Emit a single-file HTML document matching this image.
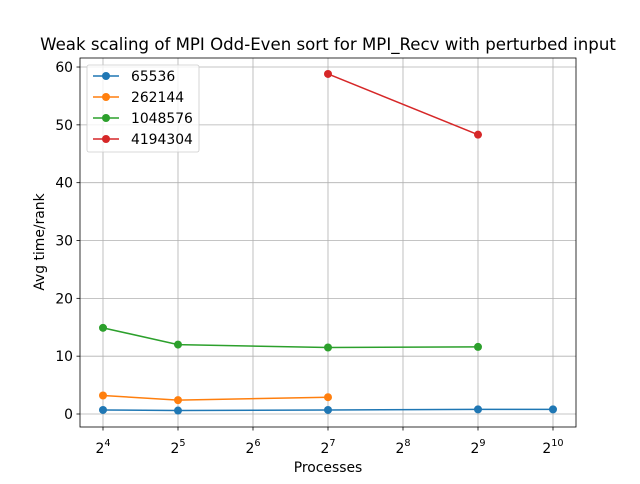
<!DOCTYPE html>
<html><head><meta charset="utf-8"><style>
body{margin:0;background:#fff;font-family:"DejaVu Sans","Liberation Sans",sans-serif}
svg text{font-family:"DejaVu Sans","Liberation Sans",sans-serif}
</style></head><body>
<svg id="c" width="640" height="480" viewBox="0 0 640 480">
<rect width="640" height="480" fill="#fff"/>
<g id="grid"></g>
<g id="lines"></g>
<rect x="80" y="58" width="496" height="369" fill="none" stroke="#000" stroke-width="0.8"/>
<g id="ticks"></g>
<text x="328" y="50" text-anchor="middle" font-size="16.6">Weak scaling of MPI Odd-Even sort for MPI_Recv with perturbed input</text>
<text x="328" y="472" text-anchor="middle" font-size="13.9">Processes</text>
<text x="44" y="242" text-anchor="middle" font-size="13.9" transform="rotate(-90 44 242)">Avg time/rank</text>
<g id="legend"></g>
</svg>
<script>
const exps=[4,5,6,7,8,9,10];
const yTicks=[0,10,20,30,40,50,60];
const seriesNames=["65536","262144","1048576","4194304"];
const colors=["#1f77b4","#ff7f0e","#2ca02c","#d62728"];
const xs0=[4,5,7,9,10], ys0=[0.7,0.6,0.7,0.8,0.8];
const xs1=[4,5,7], ys1=[3.2,2.4,2.9];
const xs2=[4,5,7,9], ys2=[14.9,12.0,11.5,11.6];
const xs3=[7,9], ys3=[58.8,48.3];
const X=e=>103+(e-4)*75;
const Y=v=>414-v*5.783;
const NS="http://www.w3.org/2000/svg";
function mk(t,a,p){const e=document.createElementNS(NS,t);for(const k in a)e.setAttribute(k,a[k]);p.appendChild(e);return e;}
const g=document.getElementById('grid'),tk=document.getElementById('ticks');
exps.forEach(e=>{
 const l=mk('line',{x1:X(e),x2:X(e),y1:58,y2:427,stroke:'#b0b0b0','stroke-width':0.8},g);
 
 
 mk('line',{x1:X(e),x2:X(e),y1:427,y2:430.5,stroke:'#000','stroke-width':0.8},tk);
 const t=mk('text',{x:X(e),y:453,'text-anchor':'middle','font-size':13.9},tk);
 
 
 t.innerHTML='2<tspan dy="-7" font-size="9.7">'+e+'</tspan>';
});
yTicks.forEach(v=>{
 const l=mk('line',{x1:80,x2:576,y1:Y(v),y2:Y(v),stroke:'#b0b0b0','stroke-width':0.8},g);
 
 
 mk('line',{x1:76.5,x2:80,y1:Y(v),y2:Y(v),stroke:'#000','stroke-width':0.8},tk);
 const t=mk('text',{x:73,y:Y(v)+5,'text-anchor':'end','font-size':13.9},tk);
 
 
 t.textContent=v;
});
const L=document.getElementById('lines');
[[xs0,ys0],[xs1,ys1],[xs2,ys2],[xs3,ys3]].forEach((s,i)=>{
 const p=mk('polyline',{points:s[0].map((x,j)=>X(x)+','+Y(s[1][j])).join(' '),fill:'none',stroke:colors[i],'stroke-width':1.5},L);
 
 
 s[0].forEach((x,j)=>{
  const c=mk('circle',{cx:X(x),cy:Y(s[1][j]),r:4,fill:colors[i]},L);
  
  
 });
});
const lg=document.getElementById('legend');
const box=mk('rect',{x:87,y:65,width:112,height:87,rx:2,fill:'#fff','fill-opacity':0.8,stroke:'#ccc','stroke-width':0.8},lg);


seriesNames.forEach((n,i)=>{
 const y=76+i*21;
 mk('line',{x1:93,x2:119,y1:y,y2:y,stroke:colors[i],'stroke-width':1.5},lg);
 mk('circle',{cx:106,cy:y,r:4,fill:colors[i]},lg);
 const t=mk('text',{x:131,y:y+5,'font-size':13.9},lg);
 
 
 t.textContent=n;
});
</script>
</body></html>
